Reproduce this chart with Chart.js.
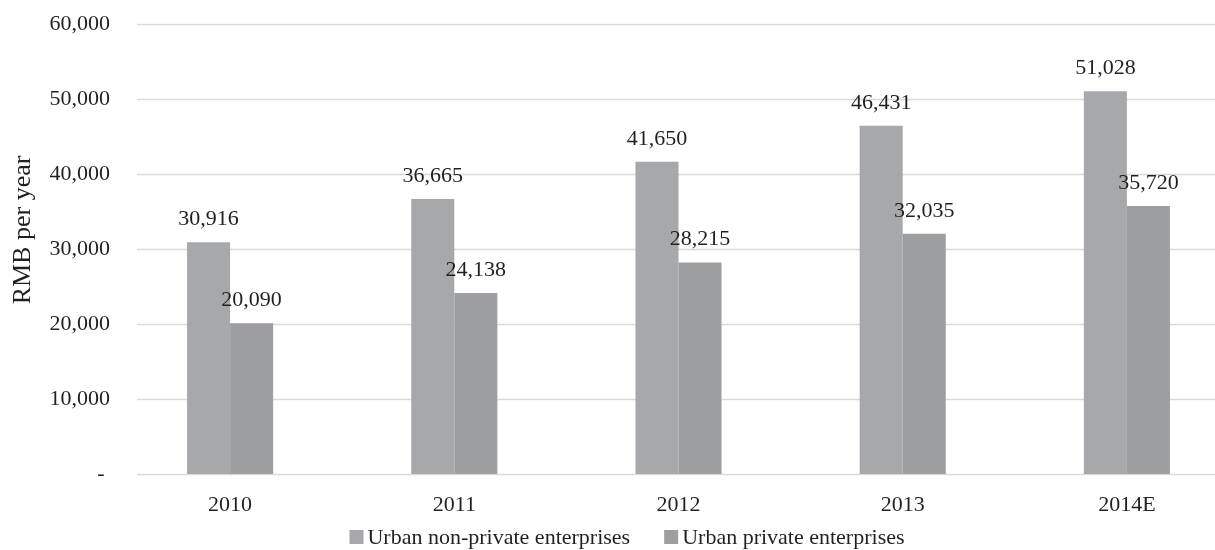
<!DOCTYPE html>
<html><head><meta charset="utf-8">
<script src="https://cdn.jsdelivr.net/npm/chart.js@4"></script>
<style>html,body{margin:0;padding:0;background:#fff;overflow:hidden;}#wrap{width:1215px;height:550px;position:relative;overflow:hidden;}</style>
</head><body><div id="wrap"><canvas id="c" width="1245" height="550"></canvas></div>
<script>
const categories = ["2010", "2011", "2012", "2013", "2014E"];
const nonPrivate = [30916, 36665, 41650, 46431, 51028];
const privateEnt = [20090, 24138, 28215, 32035, 35720];
const seriesNames = ["Urban non-private enterprises", "Urban private enterprises"];
const seriesColors = ["#a7a8ac", "#9d9ea2"];
const yTicks = [0, 10000, 20000, 30000, 40000, 50000, 60000];
const yTitle = "RMB per year";

const fmt = v => v === 0 ? "- " : v.toLocaleString("en-US");
const FONT = "'Liberation Serif', 'Times New Roman', serif";
const TXT = "#231f20";

const labelPlugin = {
  id: 'barLabels',
  beforeDatasetsDraw(chart) {
    // horizontal gridlines from the y scale
    const ctx = chart.ctx, y = chart.scales.y, a = chart.chartArea;
    ctx.save();
    ctx.strokeStyle = '#d9d9d9';
    ctx.lineWidth = 1.5;
    yTicks.forEach(v => {
      const py = Math.round(y.getPixelForValue(v)) + 0.5;
      ctx.beginPath(); ctx.moveTo(137, py); ctx.lineTo(a.right, py); ctx.stroke();
    });
    ctx.restore();
  },
  afterDatasetsDraw(chart) {
    const ctx = chart.ctx;
    ctx.save();
    ctx.font = "22px " + FONT;
    ctx.fillStyle = TXT;
    ctx.textAlign = "center";
    ctx.textBaseline = "alphabetic";
    chart.data.datasets.forEach((ds, i) => {
      chart.getDatasetMeta(i).data.forEach((bar, j) => {
        ctx.fillText(fmt(ds.data[j]), bar.x, bar.y - 17);
      });
    });
    // legend
    ctx.font = "22px " + FONT;
    ctx.textAlign = "left";
    ctx.textBaseline = "middle";
    const box = 14, gapText = 4, gapItem = 34, cy = 537;
    const widths = chart.data.datasets.map(ds => box + gapText + ctx.measureText(ds.label).width);
    const total = widths.reduce((s, w) => s + w, 0) + gapItem * (widths.length - 1);
    let x = 627 - total / 2;
    chart.data.datasets.forEach((ds, i) => {
      ctx.fillStyle = ds.backgroundColor;
      ctx.fillRect(x, cy - box / 2, box, box);
      ctx.fillStyle = TXT;
      ctx.fillText(ds.label, x + box + gapText, cy + 1);
      x += widths[i] + gapItem;
    });
    // y axis title
    ctx.translate(23, 230);
    ctx.rotate(-Math.PI / 2);
    ctx.font = "26px " + FONT;
    ctx.textAlign = "center";
    ctx.textBaseline = "middle";
    ctx.fillText(yTitle, 0, 0);
    ctx.restore();
  }
};

new Chart(document.getElementById('c'), {
  type: 'bar',
  data: {
    labels: categories,
    datasets: [
      { label: seriesNames[0], data: nonPrivate, backgroundColor: seriesColors[0], categoryPercentage: 0.384, barPercentage: 1.0 },
      { label: seriesNames[1], data: privateEnt, backgroundColor: seriesColors[1], categoryPercentage: 0.384, barPercentage: 1.0 }
    ]
  },
  options: {
    responsive: false,
    animation: false,
    layout: { padding: { left: 0, right: 6, top: 24, bottom: 0 } },
    plugins: {
      legend: { display: false },
      tooltip: { enabled: false }
    },
    scales: {
      x: {
        afterFit: axis => { axis.height = 76; },
        grid: { display: false, drawTicks: false },
        border: { display: false },
        ticks: { font: { family: FONT, size: 22 }, color: TXT, padding: 18, maxRotation: 0 }
      },
      y: {
        min: 0, max: 60000,
        afterBuildTicks: axis => { axis.ticks = yTicks.map(v => ({ value: v })); },
        afterFit: axis => { axis.width = 118; },
        grid: { display: false, drawTicks: false },
        border: { display: false },
        ticks: { font: { family: FONT, size: 22 }, color: TXT, padding: 8, callback: v => fmt(v) },
        title: { display: false }
      }
    }
  },
  plugins: [labelPlugin]
});
</script></body></html>
